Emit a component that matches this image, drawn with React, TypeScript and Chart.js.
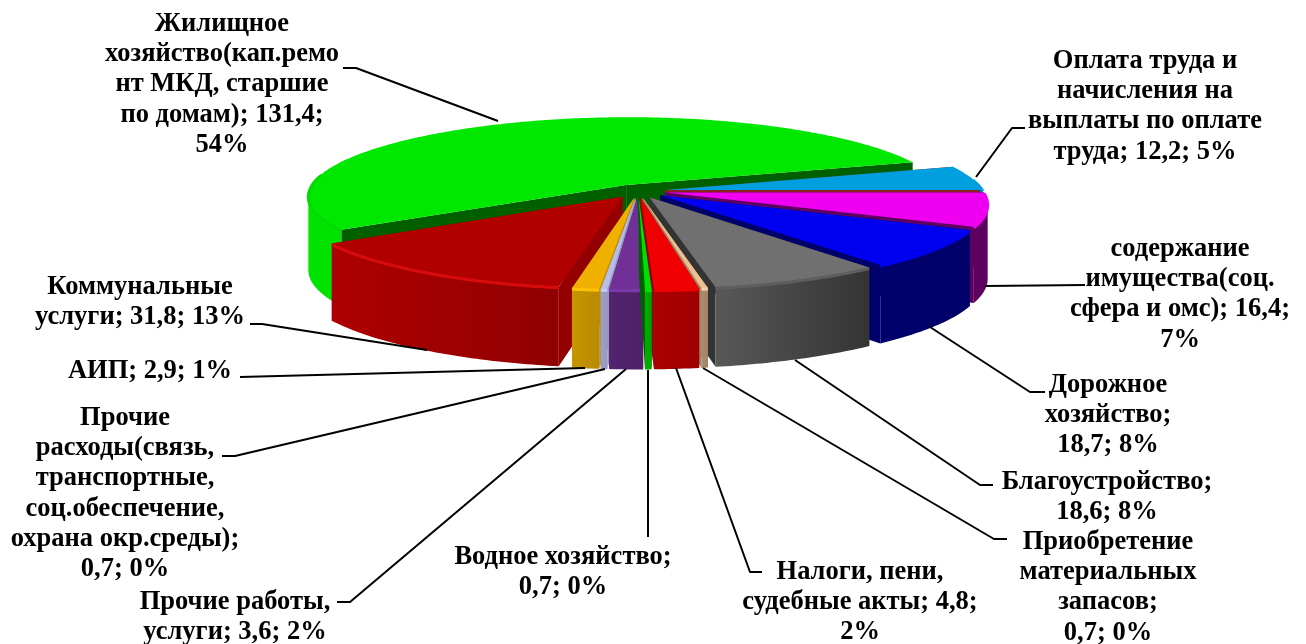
import React, { useEffect, useRef } from "react";
import { Chart, registerables } from "chart.js";

Chart.register(...registerables);

const categories = [
  "Оплата труда и начисления на выплаты по оплате труда",
  "содержание имущества(соц. сфера и омс)",
  "Дорожное хозяйство",
  "Благоустройство",
  "Приобретение материальных запасов",
  "Налоги, пени, судебные акты",
  "Водное хозяйство",
  "Прочие работы, услуги",
  "Прочие расходы(связь, транспортные, соц.обеспечение, охрана окр.среды)",
  "АИП",
  "Коммунальные услуги",
  "Жилищное хозяйство(кап.ремонт МКД, старшие по домам)",
];
const values = [12.2, 16.4, 18.7, 18.6, 0.7, 4.8, 0.7, 3.6, 0.7, 2.9, 31.8, 131.4];

const topColors = ["#00A0E0", "#F000F0", "#0000F0", "#707070", "#EDBE8E", "#F00000", "#00E000", "#703098", "#B8BCE8", "#F0B000", "#B00000", "#00E800"];
const rimColors = ["#00A0E0", "#F000F0", "#0000F0", "#5E5E5E", "#F5CFA5", "#F00000", "#00E000", "#7C38A8", "#C8CCF4", "#FFC000", "#D80C0C", "#00DC00"];
const sideLight = ["#0080B0", "#5E0060", "#00006A", "#585858", "#AC8C6E", "#AA0000", "#00AC00", "#54246F", "#9FA0C6", "#C89600", "#AE0000", "#00E400"];
const sideDark = ["#006890", "#5E0060", "#00006A", "#343434", "#A08468", "#A00000", "#00A400", "#4E2068", "#9698BE", "#B88A00", "#900000", "#00C800"];
const wallColors = ["#8A2020", "#5E0060", "#00006A", "#333333", "#A08468", "#900000", "#006000", "#4E2068", "#9698BE", "#C08C00", "#940000", "#006000"];

const labelBlocks = [
  { x: 1145, y: 60, lines: ["Оплата труда и", "начисления на", "выплаты по оплате", "труда; 12,2; 5%"] },
  { x: 1180, y: 248, lines: ["содержание", "имущества(соц.", "сфера и омс); 16,4;", "7%"] },
  { x: 1108, y: 384, lines: ["Дорожное", "хозяйство;", "18,7; 8%"] },
  { x: 1107, y: 481, lines: ["Благоустройство;", "18,6; 8%"] },
  { x: 1108, y: 541, lines: ["Приобретение", "материальных", "запасов;", "0,7; 0%"] },
  { x: 860, y: 571, lines: ["Налоги, пени,", "судебные акты; 4,8;", "2%"] },
  { x: 563, y: 556, lines: ["Водное хозяйство;", "0,7; 0%"] },
  { x: 235, y: 601, lines: ["Прочие работы,", "услуги; 3,6; 2%"] },
  { x: 125, y: 417, lines: ["Прочие", "расходы(связь,", "транспортные,", "соц.обеспечение,", "охрана окр.среды);", "0,7; 0%"] },
  { x: 150, y: 370, lines: ["АИП; 2,9; 1%"] },
  { x: 140, y: 286, lines: ["Коммунальные", "услуги; 31,8; 13%"] },
  { x: 222, y: 23, lines: ["Жилищное", "хозяйство(кап.ремо", "нт МКД, старшие", "по домам); 131,4;", "54%"] },
];

const leaders = [
  [[1025, 128], [1012, 128], [976, 177]],
  [[1085, 285], [985, 286]],
  [[1045, 392], [1030, 392], [930, 327]],
  [[993, 485], [980, 485], [795, 360]],
  [[1007, 539], [994, 539], [703, 368]],
  [[762, 572], [750, 572], [676, 368]],
  [[648, 537], [648, 370]],
  [[337, 602], [350, 602], [626, 369]],
  [[222, 456], [235, 456], [605, 369]],
  [[240, 377], [585, 368]],
  [[250, 324], [262, 324], [427, 350]],
  [[343, 68], [356, 68], [498, 121]],
];

const CX = 638, CY = 191, RX = 318, RY = 78, PERSP = 0.13, PX = 0.14, DEPTH = 74, PD = 0.07;
const FONT = 'bold 26.5px "Liberation Serif"';
const LINE_H = 30.3;
const TEXT_DY = 1;

type P = { x: number; y: number };

function project(u: number, v: number, z: number): P {
  return {
    x: CX + RX * u * (1 + PX * v),
    y: CY + (RY * v) / (1 - PERSP * v) + z * DEPTH * (1 + PD * v),
  };
}

const pie3d = {
  id: "pie3d",
  beforeDatasetDraw(chart: any) {
    const ctx: CanvasRenderingContext2D = chart.ctx;
    const meta = chart.getDatasetMeta(0);
    const slices = meta.data.map((arc: any, index: number) => {
      const mid = (arc.startAngle + arc.endAngle) / 2;
      const e = arc.options.offset / arc.outerRadius;
      return { arc, index, ox: e * Math.cos(mid), oy: e * Math.sin(mid), depth: Math.sin(mid) };
    });
    slices.sort((a: any, b: any) => a.depth - b.depth);
    for (const { arc, index, ox, oy } of slices) {
      const angles: number[] = [];
      const n = Math.max(2, Math.ceil((arc.endAngle - arc.startAngle) / 0.015));
      for (let k = 0; k <= n; k++) angles.push(arc.startAngle + ((arc.endAngle - arc.startAngle) * k) / n);
      const pts = angles.map((a) => [ox + Math.cos(a), oy + Math.sin(a)]);
      const addPoly = (list: P[]) => {
        list.forEach((p, i) => (i ? ctx.lineTo(p.x, p.y) : ctx.moveTo(p.x, p.y)));
        ctx.closePath();
      };
      const fillPoly = (list: P[], fill: any) => {
        ctx.beginPath();
        addPoly(list);
        ctx.fillStyle = fill;
        ctx.fill();
      };
      for (const end of [pts[0], pts[pts.length - 1]]) {
        fillPoly(
          [project(ox, oy, 0), project(end[0], end[1], 0), project(end[0], end[1], 1), project(ox, oy, 1)],
          wallColors[index]
        );
      }
      const top = pts.map((p) => project(p[0], p[1], 0));
      const bottom = pts.map((p) => project(p[0], p[1], 1));
      const xs = top.map((p) => p.x);
      const grad = ctx.createLinearGradient(Math.min(...xs), 0, Math.max(...xs), 0);
      grad.addColorStop(0, sideLight[index]);
      grad.addColorStop(1, sideDark[index]);
      // only the near-facing quads of the curved side, all wound the same way
      ctx.beginPath();
      for (let k = 0; k < n; k++) {
        if (Math.sin(angles[k]) < -0.05 && Math.sin(angles[k + 1]) < -0.05) continue;
        const q = [top[k], top[k + 1], bottom[k + 1], bottom[k]];
        let area = 0;
        q.forEach((p, i) => {
          const o = q[(i + 1) % 4];
          area += p.x * o.y - o.x * p.y;
        });
        addPoly(area < 0 ? q.reverse() : q);
      }
      ctx.fillStyle = grad;
      ctx.fill("nonzero");
      fillPoly([project(ox, oy, 0), ...top], arc.options.backgroundColor);
      // bevel on the near part of the outer edge
      ctx.beginPath();
      let pen = false;
      top.forEach((p, i) => {
        if (Math.sin(angles[i]) < -0.15) {
          pen = false;
          return;
        }
        if (pen) ctx.lineTo(p.x, p.y + 1);
        else ctx.moveTo(p.x, p.y + 1);
        pen = true;
      });
      ctx.strokeStyle = rimColors[index];
      ctx.lineWidth = 3;
      ctx.stroke();
    }
    return false;
  },
  afterDraw(chart: any) {
    const ctx: CanvasRenderingContext2D = chart.ctx;
    ctx.save();
    ctx.strokeStyle = "#000000";
    ctx.lineWidth = 2;
    ctx.lineJoin = "round";
    for (const line of leaders) {
      ctx.beginPath();
      line.forEach((p, i) => (i ? ctx.lineTo(p[0], p[1]) : ctx.moveTo(p[0], p[1])));
      ctx.stroke();
    }
    ctx.fillStyle = "#000000";
    ctx.font = FONT;
    ctx.textAlign = "center";
    ctx.textBaseline = "middle";
    for (const block of labelBlocks) {
      block.lines.forEach((text, i) => ctx.fillText(text, block.x, block.y + TEXT_DY + i * LINE_H));
    }
    ctx.restore();
  },
};

export default function App() {
  const ref = useRef<HTMLCanvasElement>(null);
  useEffect(() => {
    document.body.style.margin = "0";
    const chart = new Chart(ref.current!, {
      type: "pie",
      data: {
        labels: categories,
        datasets: [{ data: values, backgroundColor: topColors, borderWidth: 0, offset: 27 }],
      },
      options: {
        responsive: false,
        animation: false,
        rotation: 72,
        events: [],
        layout: { padding: 0 },
        plugins: { legend: { display: false }, tooltip: { enabled: false }, title: { display: false } },
      },
      plugins: [pie3d],
    } as any);
    return () => chart.destroy();
  }, []);
  return <canvas ref={ref} width={1306} height={644} style={{ display: "block" }} />;
}
